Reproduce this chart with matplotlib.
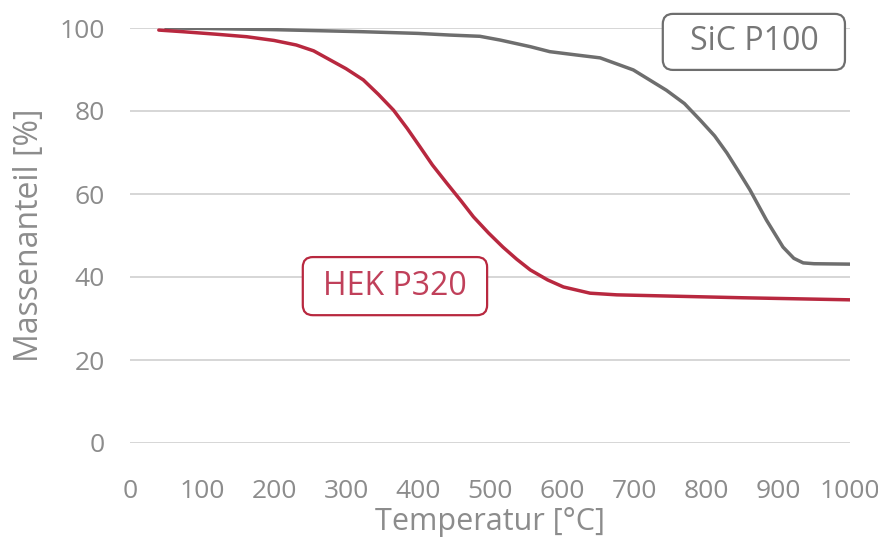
import matplotlib.pyplot as plt
from matplotlib.patches import FancyBboxPatch

# Thermogravimetrie: Temperatur [°C] vs. Massenanteil [%]
sic_T = [50, 100, 200, 324, 400, 444, 486, 514, 556, 583, 620, 653, 699, 745, 770,
         792, 812, 829, 845, 861, 884, 907, 922, 935, 950, 1000]
sic_m = [100, 99.9, 99.6, 99.1, 98.7, 98.3, 98.0, 97.1, 95.5, 94.3, 93.5, 92.8, 89.9, 85.0, 81.8,
         77.8, 74.0, 69.9, 65.5, 61.0, 53.7, 47.2, 44.5, 43.4, 43.2, 43.1]

hek_T = [40, 74, 120, 162, 200, 231, 255, 278, 300, 324, 345, 366, 385, 403, 420, 440, 460,
         477, 498, 518, 537, 556, 580, 602, 639, 676, 750, 850, 1000]
hek_m = [99.5, 99.1, 98.5, 97.9, 97.0, 95.9, 94.5, 92.3, 90.2, 87.5, 84.0, 80.2, 75.8, 71.3, 67.0, 62.6, 58.3,
         54.5, 50.6, 47.2, 44.3, 41.7, 39.3, 37.6, 36.1, 35.7, 35.4, 35.0, 34.5]

x_ticks = [0, 100, 200, 300, 400, 500, 600, 700, 800, 900, 1000]
y_ticks = [0, 20, 40, 60, 80, 100]

plt.rcParams['font.family'] = ['Open Sans', 'DejaVu Sans']

fig = plt.figure(figsize=(8.79, 5.52), dpi=100)
ax = fig.add_axes([130 / 879, 109 / 552, 720 / 879, 415 / 552])

txt = '#8c8c8c'
gray = '#6e6e6e'
red = '#b8283f'
for y in y_ticks:
    ax.axhline(y, color='#d0d0d0', lw=1.2, zorder=0)

ax.plot(sic_T, sic_m, color=gray, lw=2.5, zorder=3, solid_capstyle='round')
ax.plot(hek_T, hek_m, color=red, lw=2.5, zorder=3, solid_capstyle='round')

ax.set_xlim(0, 1000)
ax.set_ylim(0, 100)
ax.set_xticks(x_ticks)
ax.set_yticks(y_ticks)
ax.tick_params(length=0, labelsize=19, labelcolor=txt)
ax.tick_params(axis='x', pad=26)
ax.tick_params(axis='y', pad=18)
for s in ax.spines.values():
    s.set_visible(False)

ax.set_xlabel('Temperatur [°C]', fontsize=22, color=txt, labelpad=2)
ax.set_ylabel('Massenanteil [%]', fontsize=23, color=txt, labelpad=10)

# Beschriftungskästen (px -> Datenkoordinaten)
asp = 0.72 / 4.15
for (x0, x1, y0, y1, label, ec, tc) in [(740, 993, 89.9, 103.4, 'SiC P100', gray, '#777777'),
                                         (240, 496, 30.8, 44.8, 'HEK P320', red, '#c0405a')]:
    box = FancyBboxPatch((x0, y0), x1 - x0, y1 - y0,
                         boxstyle='round,pad=0,rounding_size=14', mutation_aspect=asp,
                         fc='white', ec=ec, lw=1.6, zorder=5, clip_on=False)
    ax.add_patch(box)
    ax.text((x0 + x1) / 2, (y0 + y1) / 2, label, fontsize=23, color=tc,
            ha='center', va='center', zorder=6)

fig.savefig('out.png', dpi=100)
